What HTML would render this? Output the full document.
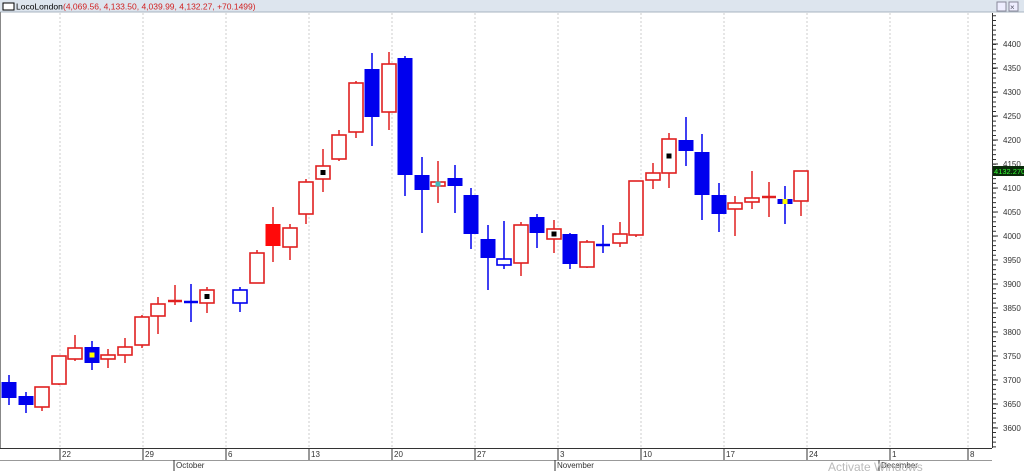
<!DOCTYPE html>
<html><head><meta charset="utf-8"><style>
html,body{margin:0;padding:0;background:#fff;}
svg{display:block;font-family:"Liberation Sans",sans-serif;}
</style></head><body>
<svg width="1024" height="473" viewBox="0 0 1024 473" xmlns="http://www.w3.org/2000/svg">
<rect x="0" y="0" width="1024" height="473" fill="#fff"/>
<rect x="0" y="0" width="1024" height="12" fill="#dde5ee"/>
<line x1="0" y1="12" x2="1024" y2="12" stroke="#a8b4c0"/>
<rect x="3" y="3" width="11" height="7" fill="#fff" stroke="#000" stroke-width="1"/>
<text x="16" y="9.5" font-size="8.5" fill="#000">LocoLondon</text>
<text x="63" y="9.5" font-size="8.5" fill="#d02020">(4,069.56, 4,133.50, 4,039.99, 4,132.27, +70.1499)</text>
<rect x="997" y="2" width="9" height="9" fill="#eef" stroke="#889"/>
<rect x="1009" y="2" width="9" height="9" fill="#eef" stroke="#889"/>
<text x="1010" y="10" font-size="8" fill="#556">×</text>
<line x1="0.5" y1="12" x2="0.5" y2="448" stroke="#888"/>
<g stroke="#ccc" stroke-dasharray="2,2">
<line x1="60" y1="13" x2="60" y2="448"/><line x1="143" y1="13" x2="143" y2="448"/>
<line x1="226" y1="13" x2="226" y2="448"/><line x1="309" y1="13" x2="309" y2="448"/>
<line x1="392" y1="13" x2="392" y2="448"/><line x1="475" y1="13" x2="475" y2="448"/>
<line x1="558" y1="13" x2="558" y2="448"/><line x1="641" y1="13" x2="641" y2="448"/>
<line x1="724" y1="13" x2="724" y2="448"/><line x1="807" y1="13" x2="807" y2="448"/>
<line x1="890" y1="13" x2="890" y2="448"/><line x1="968" y1="13" x2="968" y2="448"/>
</g>
<line x1="992.5" y1="13" x2="992.5" y2="448" stroke="#333"/>
<line x1="994.5" y1="15.26" x2="994.5" y2="448" stroke="#333" stroke-width="3" stroke-dasharray="1,3.79"/>
<g stroke="#333">
<line x1="992" y1="44" x2="998" y2="44"/><line x1="992" y1="68" x2="998" y2="68"/><line x1="992" y1="92" x2="998" y2="92"/>
<line x1="992" y1="116" x2="998" y2="116"/><line x1="992" y1="140" x2="998" y2="140"/><line x1="992" y1="164" x2="998" y2="164"/>
<line x1="992" y1="188" x2="998" y2="188"/><line x1="992" y1="212" x2="998" y2="212"/><line x1="992" y1="236" x2="998" y2="236"/>
<line x1="992" y1="260" x2="998" y2="260"/><line x1="992" y1="284" x2="998" y2="284"/><line x1="992" y1="308" x2="998" y2="308"/>
<line x1="992" y1="332" x2="998" y2="332"/><line x1="992" y1="356" x2="998" y2="356"/><line x1="992" y1="380" x2="998" y2="380"/>
<line x1="992" y1="404" x2="998" y2="404"/><line x1="992" y1="428" x2="998" y2="428"/>
</g>
<g font-size="8" fill="#333">
<text x="1003" y="47">4400</text><text x="1003" y="71">4350</text><text x="1003" y="95">4300</text>
<text x="1003" y="119">4250</text><text x="1003" y="143">4200</text><text x="1003" y="167">4150</text>
<text x="1003" y="191">4100</text><text x="1003" y="215">4050</text><text x="1003" y="239">4000</text>
<text x="1003" y="263">3950</text><text x="1003" y="287">3900</text><text x="1003" y="311">3850</text>
<text x="1003" y="335">3800</text><text x="1003" y="359">3750</text><text x="1003" y="383">3700</text>
<text x="1003" y="407">3650</text><text x="1003" y="431">3600</text>
</g>
<rect x="993" y="166" width="31" height="10" fill="#0a2a0a"/>
<text x="994" y="174" font-size="7.5" fill="#3f3">4132.270</text>
<line x1="0" y1="448.5" x2="992" y2="448.5" stroke="#333"/>
<line x1="0" y1="460.5" x2="992" y2="460.5" stroke="#999"/>
<g stroke="#333">
<line x1="60" y1="448" x2="60" y2="460"/><line x1="143" y1="448" x2="143" y2="460"/>
<line x1="226" y1="448" x2="226" y2="460"/><line x1="309" y1="448" x2="309" y2="460"/>
<line x1="392" y1="448" x2="392" y2="460"/><line x1="475" y1="448" x2="475" y2="460"/>
<line x1="558" y1="448" x2="558" y2="460"/><line x1="641" y1="448" x2="641" y2="460"/>
<line x1="724" y1="448" x2="724" y2="460"/><line x1="807" y1="448" x2="807" y2="460"/>
<line x1="890" y1="448" x2="890" y2="460"/><line x1="968" y1="448" x2="968" y2="460"/>
<line x1="174" y1="460" x2="174" y2="471"/><line x1="555" y1="460" x2="555" y2="471"/><line x1="879" y1="460" x2="879" y2="471"/>
</g>
<g font-size="8" fill="#333">
<text x="62" y="457">22</text><text x="145" y="457">29</text><text x="228" y="457">6</text>
<text x="311" y="457">13</text><text x="394" y="457">20</text><text x="477" y="457">27</text>
<text x="560" y="457">3</text><text x="643" y="457">10</text><text x="726" y="457">17</text>
<text x="809" y="457">24</text><text x="892" y="457">1</text><text x="970" y="457">8</text>
<text x="176" y="468">October</text><text x="557" y="468">November</text><text x="881" y="468">December</text>
</g>
<text x="828" y="471" font-size="12" fill="#bbb">Activate Windows</text>

<!-- wicks red -->
<g stroke="#e02020" stroke-width="1.5">
<line x1="42" y1="387" x2="42" y2="411"/><line x1="59" y1="356" x2="59" y2="385"/>
<line x1="75" y1="335" x2="75" y2="361"/><line x1="108" y1="349" x2="108" y2="368"/>
<line x1="125" y1="338" x2="125" y2="363"/><line x1="142" y1="315" x2="142" y2="348"/>
<line x1="158" y1="297" x2="158" y2="334"/><line x1="175" y1="285" x2="175" y2="305"/>
<line x1="207" y1="287" x2="207" y2="313"/><line x1="257" y1="250" x2="257" y2="283"/>
<line x1="273" y1="207" x2="273" y2="262"/><line x1="290" y1="224" x2="290" y2="260"/>
<line x1="306" y1="179" x2="306" y2="224"/><line x1="323" y1="149" x2="323" y2="192"/>
<line x1="339" y1="130" x2="339" y2="161"/><line x1="356" y1="81" x2="356" y2="138"/>
<line x1="389" y1="52" x2="389" y2="130"/><line x1="438" y1="161" x2="438" y2="203"/>
<line x1="521" y1="222" x2="521" y2="276"/><line x1="554" y1="220" x2="554" y2="253"/>
<line x1="587" y1="240" x2="587" y2="268"/><line x1="620" y1="222" x2="620" y2="247"/>
<line x1="636" y1="181" x2="636" y2="237"/><line x1="653" y1="163" x2="653" y2="189"/>
<line x1="669" y1="133" x2="669" y2="188"/><line x1="735" y1="196" x2="735" y2="236"/>
<line x1="752" y1="171" x2="752" y2="209"/><line x1="769" y1="182" x2="769" y2="217"/>
<line x1="801" y1="171" x2="801" y2="216"/>
</g>
<g stroke="#0000ee" stroke-width="1.5">
<line x1="9" y1="375" x2="9" y2="405"/><line x1="26" y1="392" x2="26" y2="413"/>
<line x1="92" y1="341" x2="92" y2="370"/><line x1="191" y1="284" x2="191" y2="322"/>
<line x1="240" y1="287" x2="240" y2="312"/><line x1="372" y1="53" x2="372" y2="146"/>
<line x1="405" y1="56" x2="405" y2="196"/><line x1="422" y1="157" x2="422" y2="233"/>
<line x1="455" y1="165" x2="455" y2="213"/><line x1="471" y1="188" x2="471" y2="249"/>
<line x1="488" y1="225" x2="488" y2="290"/><line x1="504" y1="221" x2="504" y2="269"/>
<line x1="537" y1="214" x2="537" y2="248"/><line x1="570" y1="233" x2="570" y2="269"/>
<line x1="603" y1="225" x2="603" y2="253"/><line x1="686" y1="117" x2="686" y2="166"/>
<line x1="702" y1="134" x2="702" y2="220"/><line x1="719" y1="183" x2="719" y2="232"/>
<line x1="785" y1="186" x2="785" y2="224"/>
</g>
<!-- red hollow bodies -->
<g fill="#fff" stroke="#e02020" stroke-width="1.6">
<rect x="35" y="387" width="14" height="20"/><rect x="52" y="356" width="14" height="28"/>
<rect x="68" y="348" width="14" height="11"/><rect x="101" y="355" width="14" height="4"/>
<rect x="118" y="347" width="14" height="8"/><rect x="135" y="317" width="14" height="28"/>
<rect x="151" y="304" width="14" height="12"/><rect x="200" y="290" width="14" height="13"/>
<rect x="250" y="253" width="14" height="30"/><rect x="283" y="228" width="14" height="19"/>
<rect x="299" y="182" width="14" height="32"/><rect x="316" y="166" width="14" height="13"/>
<rect x="332" y="135" width="14" height="24"/><rect x="349" y="83" width="14" height="49"/>
<rect x="382" y="64" width="14" height="48"/><rect x="431" y="182" width="14" height="4"/>
<rect x="514" y="225" width="14" height="38"/><rect x="547" y="229" width="14" height="10"/>
<rect x="580" y="242" width="14" height="25"/><rect x="613" y="234" width="14" height="9"/>
<rect x="629" y="181" width="14" height="54"/><rect x="646" y="173" width="14" height="7"/>
<rect x="662" y="139" width="14" height="34"/><rect x="728" y="203" width="14" height="6"/>
<rect x="745" y="198" width="14" height="4"/><rect x="794" y="171" width="14" height="30"/>
</g>
<g fill="#fff" stroke="#0000ee" stroke-width="1.6">
<rect x="233" y="290" width="14" height="13"/><rect x="497" y="259" width="14" height="6"/>
</g>
<rect x="265.5" y="224" width="15" height="22" fill="#ff0a0a"/>
<g fill="#0000ee">
<rect x="1.5" y="382" width="15" height="16"/><rect x="18.5" y="396" width="15" height="9"/>
<rect x="84.5" y="347" width="15" height="16"/><rect x="364.5" y="69" width="15" height="48"/>
<rect x="397.5" y="58" width="15" height="117"/><rect x="414.5" y="175" width="15" height="15"/>
<rect x="447.5" y="178" width="15" height="8"/><rect x="463.5" y="195" width="15" height="39"/>
<rect x="480.5" y="239" width="15" height="19"/><rect x="529.5" y="217" width="15" height="16"/>
<rect x="562.5" y="234" width="15" height="30"/><rect x="678.5" y="140" width="15" height="11"/>
<rect x="694.5" y="152" width="15" height="43"/><rect x="711.5" y="195" width="15" height="19"/>
<rect x="777.5" y="199" width="15" height="5"/>
</g>
<!-- crosses -->
<line x1="168" y1="301" x2="182" y2="301" stroke="#e02020" stroke-width="2.5"/>
<line x1="184" y1="302" x2="198" y2="302" stroke="#0000ee" stroke-width="2.5"/>
<line x1="596" y1="245" x2="610" y2="245" stroke="#0000ee" stroke-width="2.5"/>
<line x1="762" y1="197" x2="776" y2="197" stroke="#e02020" stroke-width="2.5"/>
<!-- dots -->
<rect x="89.5" y="352.5" width="5" height="5" fill="#ff0"/>
<rect x="204.5" y="294" width="5" height="5" fill="#000"/>
<rect x="320.5" y="170" width="5" height="5" fill="#000"/>
<rect x="435.5" y="181.5" width="5" height="5" fill="#4bb"/>
<rect x="551.5" y="231.5" width="5" height="5" fill="#000"/>
<rect x="666.5" y="153.5" width="5" height="5" fill="#000"/>
<rect x="782.5" y="199" width="5" height="5" fill="#ff0"/>
</svg>
</body></html>
